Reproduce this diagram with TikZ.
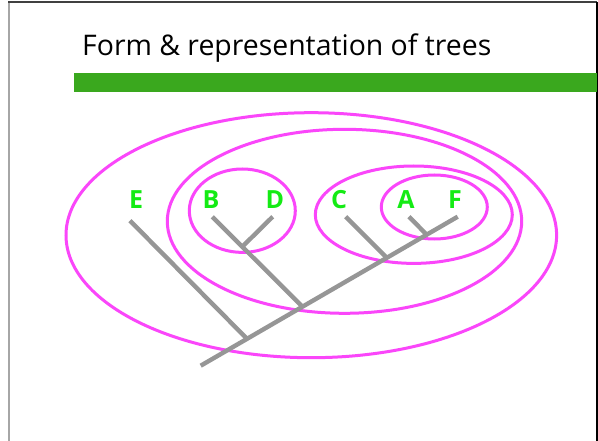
\documentclass[tikz,border=0pt]{standalone}
\usepackage{fontspec}
\setmainfont{Open Sans}
\definecolor{leafgreen}{RGB}{20,235,20}
\definecolor{barcol}{RGB}{58,168,30}
\definecolor{ringcol}{RGB}{250,70,250}
\definecolor{branch}{RGB}{150,150,150}
\begin{document}
\begin{tikzpicture}[x=1pt,y=-1pt,
  leaf/.style={text=leafgreen,font=\fontsize{25}{25}\selectfont\bfseries,inner sep=0pt,anchor=base},
  ring/.style={draw=ringcol,line width=3pt},
  br/.style={draw=branch,line width=4.4pt}]
\useasboundingbox (0,0) rectangle (598,441);
\fill[white] (0,0) rectangle (598,441);
% frame
\draw[gray!70,line width=2pt] (9,2) -- (9,441);
\draw[black!75,line width=1.2pt] (8,2) -- (597,2);
\draw[black,line width=1.5pt] (597,2) -- (597,441);
% title
\node[anchor=base west,inner sep=0pt,font=\fontsize{28.4}{29}\selectfont] (title) at (82,56) {Form \& representation of trees};
% bar
\fill[barcol] (74,73) rectangle (597,92);
% ellipses
\draw[ring] (311.3,235.2) ellipse [x radius=245.3,y radius=122.5];
\draw[ring] (344.5,221.3) ellipse [x radius=177.2,y radius=92];
\draw[ring] (242.3,210.7) ellipse [x radius=53,y radius=41.7];
\draw[ring] (413.8,214.7) ellipse [x radius=98.5,y radius=48.7];
\draw[ring] (434.3,207) ellipse [x radius=53,y radius=32];
% labels
\node[leaf] (E) at (136,209) {E};
\node[leaf] (B) at (211,209) {B};
\node[leaf] (D) at (275,209) {D};
\node[leaf] (C) at (339,209) {C};
\node[leaf] (A) at (406,209) {A};
\node[leaf] (F) at (455,209) {F};
% tree coordinates
\coordinate (root) at (200.7,365.7);
\coordinate (nE) at (246.7,338.5);
\coordinate (nBD) at (302.3,306.5);
\coordinate (nCAF) at (386.7,257.8);
\coordinate (nAF) at (426.7,234.7);
\coordinate (lE) at (130,220.7);
\coordinate (lB) at (212.3,216.7);
\coordinate (lD) at (272.7,216.7);
\coordinate (bd) at (242.3,246.7);
\coordinate (lC) at (345.7,216.7);
\coordinate (lA) at (409,216.7);
\coordinate (lF) at (457.7,216.7);
% branches
\draw[br] (root) -- (lF);
\draw[br] (lE) -- (nE);
\draw[br] (lB) -- (bd) -- (nBD);
\draw[br] (lD) -- (bd);
\draw[br] (lC) -- (nCAF);
\draw[br] (lA) -- (nAF);
\end{tikzpicture}
\end{document}
